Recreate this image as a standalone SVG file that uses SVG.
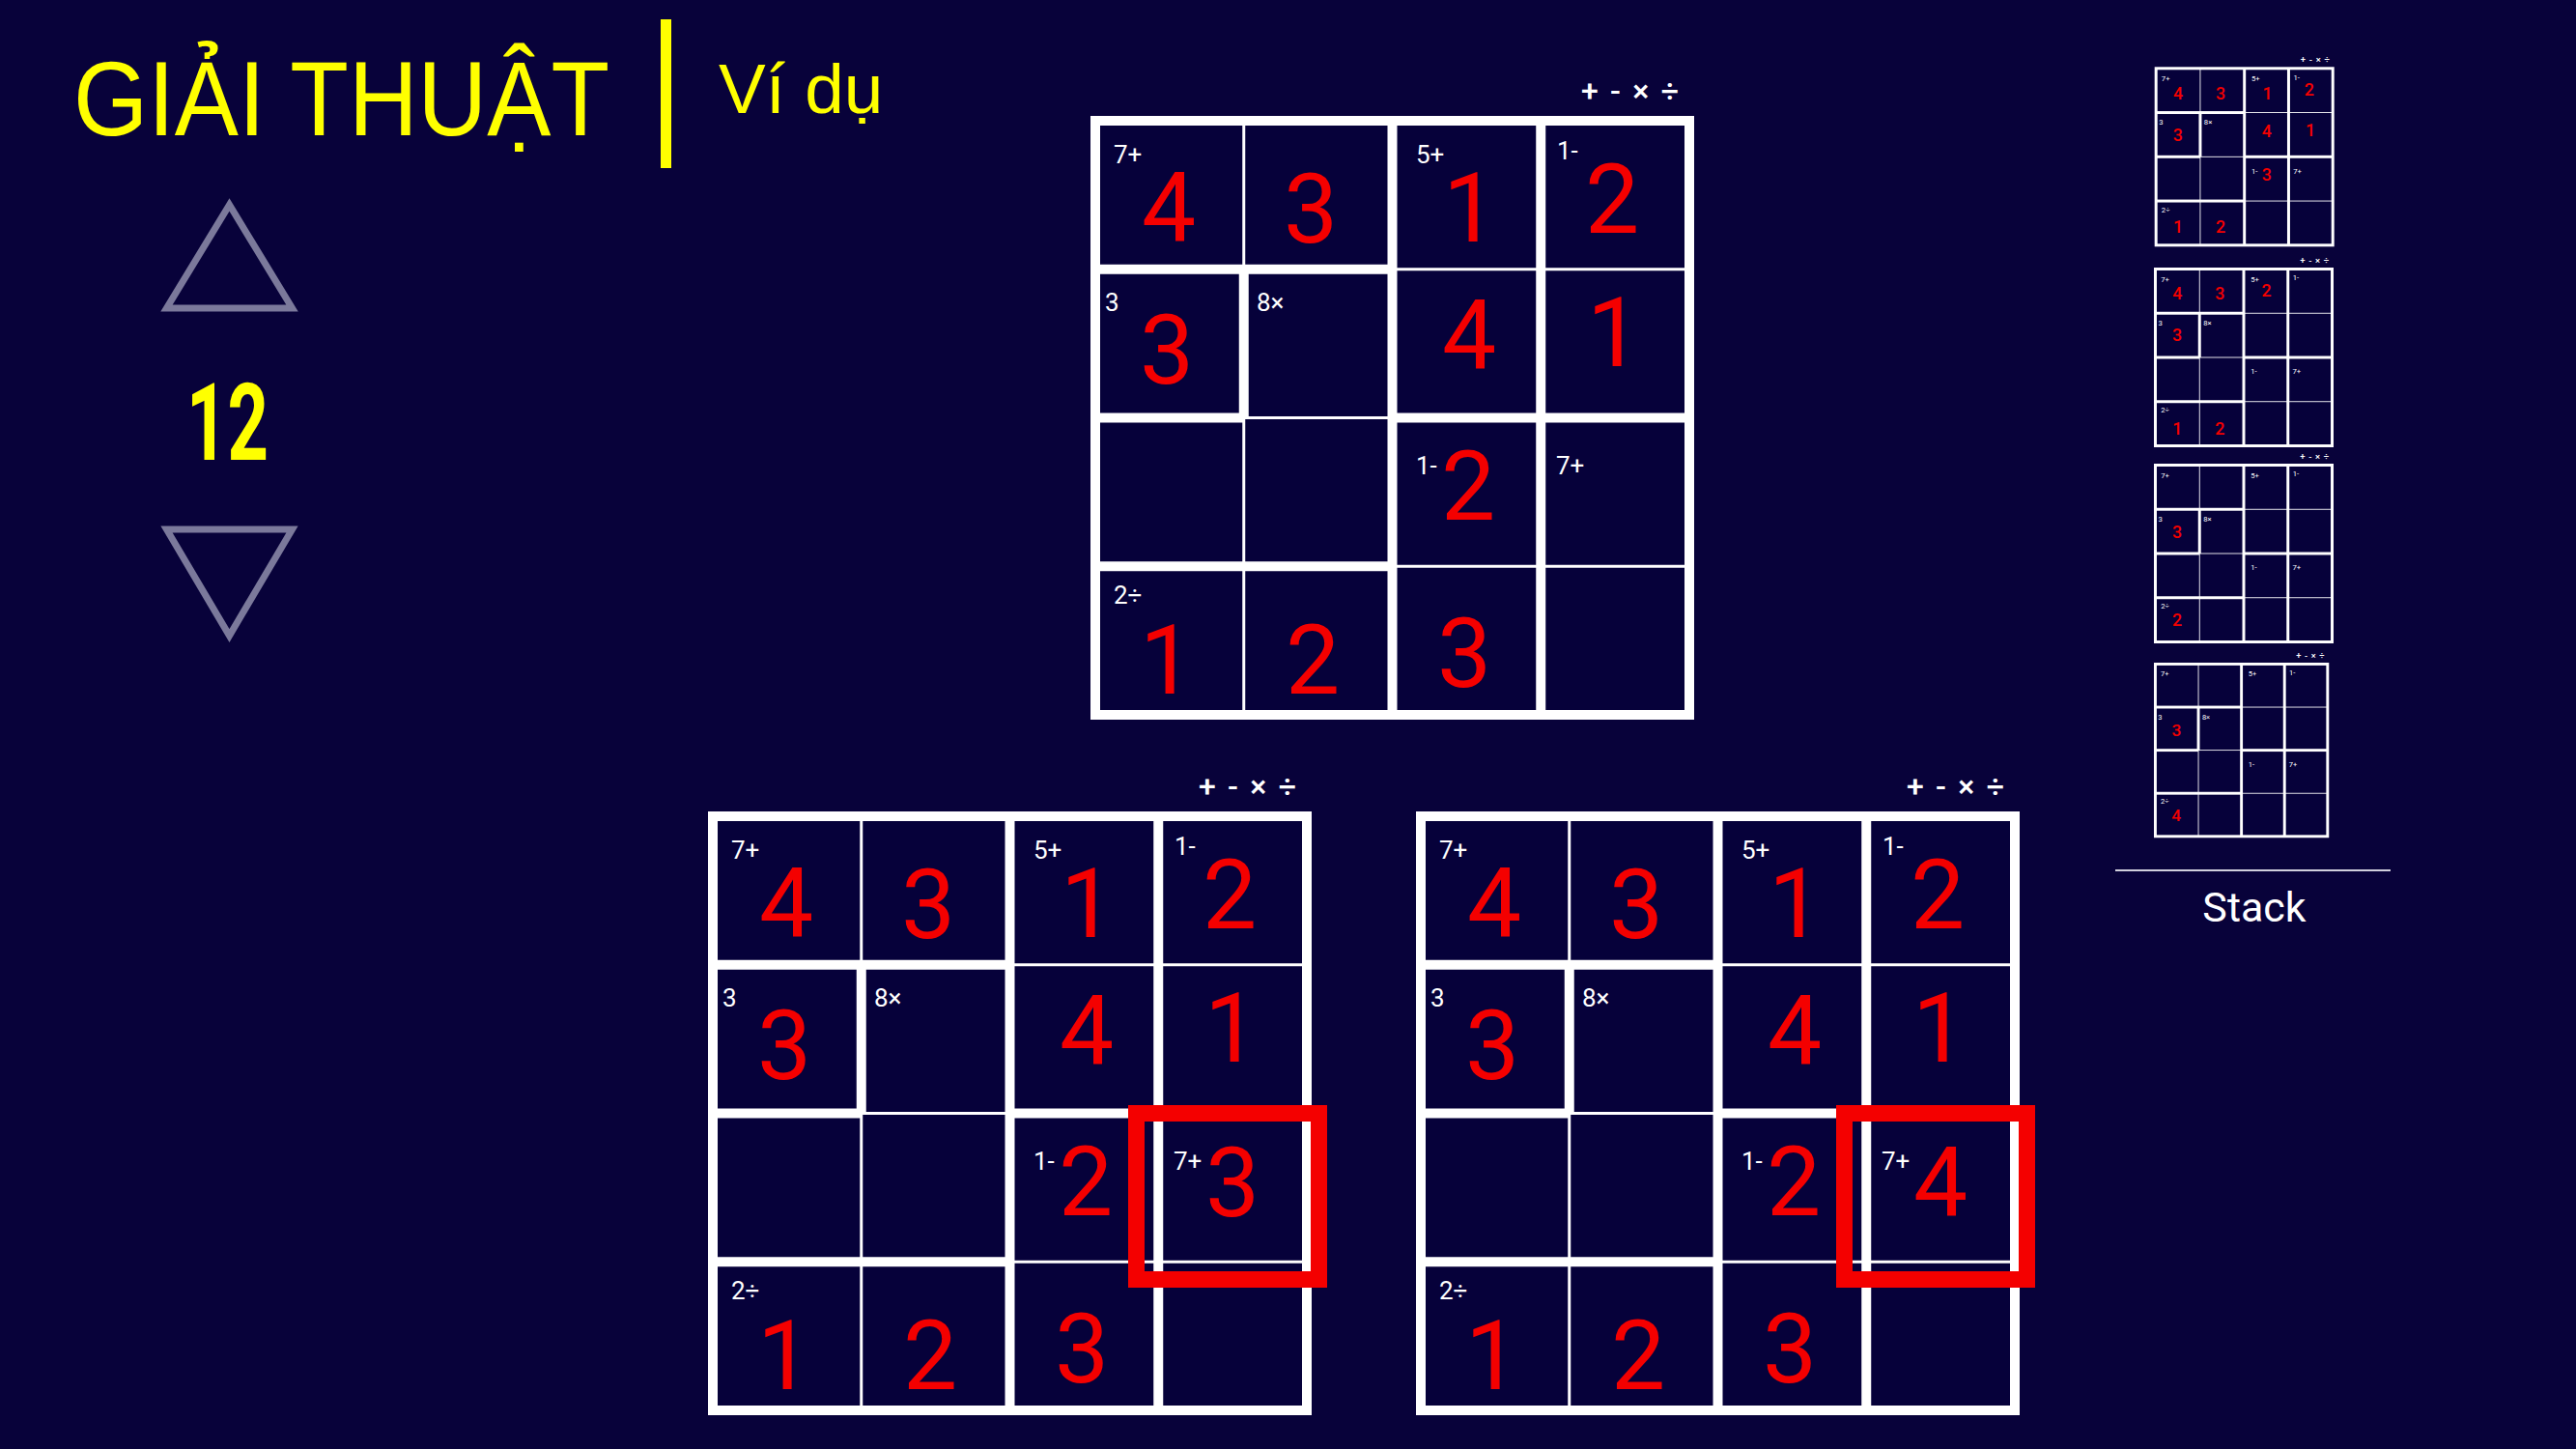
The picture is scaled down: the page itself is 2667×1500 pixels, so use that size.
<svg xmlns="http://www.w3.org/2000/svg" xmlns:xlink="http://www.w3.org/1999/xlink" width="2667" height="1500" viewBox="0 0 2667 1500">
<style>
.bg{fill:#08023a}
.cell{fill:#06013a}
.lbl{font-family:Roboto,"Noto Sans",sans-serif;font-size:26px;fill:#ffffff}
.ops{font-family:Roboto,"Noto Sans",sans-serif;font-size:32px;font-weight:500;fill:#ffffff}
.dg{font-family:Roboto,"Noto Sans",sans-serif;font-size:100px;fill:#f40000;text-anchor:middle}
.dm{font-family:Roboto,"Noto Sans",sans-serif;font-size:60px;font-weight:500;fill:#f40000;text-anchor:middle}
.tri{fill:none;stroke:#7b799b;stroke-width:7;stroke-linejoin:miter}
.hl{fill:none;stroke:#f40000;stroke-width:17}
.yel{fill:#ffff00}
</style>
<defs>
<g id="grid">
<rect x="0" y="0" width="625" height="625" fill="#ffffff"/>
<rect class="cell" x="10" y="10" width="147.25" height="143.75"/>
<rect class="cell" x="160.25" y="10" width="147.25" height="143.75"/>
<rect class="cell" x="317.5" y="10" width="143.75" height="147.25"/>
<rect class="cell" x="471.25" y="10" width="143.75" height="147.25"/>
<rect class="cell" x="10" y="163.75" width="143.75" height="143.75"/>
<rect class="cell" x="163.75" y="163.75" width="143.75" height="147.25"/>
<rect class="cell" x="317.5" y="160.25" width="143.75" height="147.25"/>
<rect class="cell" x="471.25" y="160.25" width="143.75" height="147.25"/>
<rect class="cell" x="10" y="317.5" width="147.25" height="143.75"/>
<rect class="cell" x="160.25" y="314" width="147.25" height="147.25"/>
<rect class="cell" x="317.5" y="317.5" width="143.75" height="147.25"/>
<rect class="cell" x="471.25" y="317.5" width="143.75" height="147.25"/>
<rect class="cell" x="10" y="471.25" width="147.25" height="143.75"/>
<rect class="cell" x="160.25" y="471.25" width="147.25" height="143.75"/>
<rect class="cell" x="317.5" y="467.75" width="143.75" height="147.25"/>
<rect class="cell" x="471.25" y="467.75" width="143.75" height="147.25"/>
<text class="lbl" x="24" y="49">7+</text>
<text class="lbl" x="337" y="49">5+</text>
<text class="lbl" x="483" y="45">1-</text>
<text class="lbl" x="15" y="202">3</text>
<text class="lbl" x="172" y="202">8×</text>
<text class="lbl" x="337" y="371">1-</text>
<text class="lbl" x="482" y="371">7+</text>
<text class="lbl" x="24" y="505">2÷</text>
<text class="ops" x="508" y="-15" textLength="101" lengthAdjust="spacing">+ - × ÷</text>
</g>
</defs>

<rect class="bg" x="0" y="0" width="2667" height="1500"/>

<g id="title">
<text class="yel" x="76" y="140" font-family="'Liberation Sans', Arial, sans-serif" font-size="109" textLength="555" lengthAdjust="spacingAndGlyphs">GIẢI THUẬT</text>
<rect class="yel" x="684" y="20" width="11" height="154"/>
<text class="yel" x="744" y="117" font-family="'Liberation Sans', Arial, sans-serif" font-size="73">Ví dụ</text>
</g>

<g id="nav">
<polygon class="tri" points="237.5,212 172.5,319 302.5,319"/>
<text class="yel" x="193" y="476" font-family="Roboto, 'Liberation Sans', sans-serif" font-weight="bold" font-size="111" textLength="85" lengthAdjust="spacingAndGlyphs">12</text>
<polygon class="tri" points="172.5,548 302.5,548 237.5,658"/>
</g>

<g id="grid-current" transform="translate(1129,120)">
<use href="#grid" xlink:href="#grid"/>
<text class="dg" x="81" y="130">4</text>
<text class="dg" x="228" y="131">3</text>
<text class="dg" x="393" y="130">1</text>
<text class="dg" x="540" y="121">2</text>
<text class="dg" x="79" y="277">3</text>
<text class="dg" x="392" y="262">4</text>
<text class="dg" x="542" y="259">1</text>
<text class="dg" x="391" y="418">2</text>
<text class="dg" x="79" y="598">1</text>
<text class="dg" x="230" y="598">2</text>
<text class="dg" x="387" y="591">3</text>
</g>

<g id="grid-try-3" transform="translate(733,840)">
<use href="#grid" xlink:href="#grid"/>
<text class="dg" x="81" y="130">4</text>
<text class="dg" x="228" y="131">3</text>
<text class="dg" x="393" y="130">1</text>
<text class="dg" x="540" y="121">2</text>
<text class="dg" x="79" y="277">3</text>
<text class="dg" x="392" y="262">4</text>
<text class="dg" x="542" y="259">1</text>
<text class="dg" x="391" y="418">2</text>
<text class="dg" x="543" y="419">3</text>
<text class="dg" x="79" y="598">1</text>
<text class="dg" x="230" y="598">2</text>
<text class="dg" x="387" y="591">3</text>
<rect class="hl" x="443.5" y="312.5" width="189" height="172"/>
</g>

<g id="grid-try-4" transform="translate(1466,840)">
<use href="#grid" xlink:href="#grid"/>
<text class="dg" x="81" y="130">4</text>
<text class="dg" x="228" y="131">3</text>
<text class="dg" x="393" y="130">1</text>
<text class="dg" x="540" y="121">2</text>
<text class="dg" x="79" y="277">3</text>
<text class="dg" x="392" y="262">4</text>
<text class="dg" x="542" y="259">1</text>
<text class="dg" x="391" y="418">2</text>
<text class="dg" x="543" y="419">4</text>
<text class="dg" x="79" y="598">1</text>
<text class="dg" x="230" y="598">2</text>
<text class="dg" x="387" y="591">3</text>
<rect class="hl" x="443.5" y="312.5" width="189" height="172"/>
</g>

<g id="stack-1" transform="translate(2230.7,69.3) scale(0.2976)">
<use href="#grid" xlink:href="#grid"/>
<text class="dm" x="82" y="112">4</text>
<text class="dm" x="229.5" y="112">3</text>
<text class="dm" x="393" y="112">1</text>
<text class="dm" x="538" y="101">2</text>
<text class="dm" x="81" y="258">3</text>
<text class="dm" x="390" y="243">4</text>
<text class="dm" x="542" y="241">1</text>
<text class="dm" x="390" y="396">3</text>
<text class="dm" x="82" y="577">1</text>
<text class="dm" x="229.5" y="577">2</text>
</g>

<g id="stack-2" transform="translate(2230,277) scale(0.2976)">
<use href="#grid" xlink:href="#grid"/>
<text class="dm" x="82" y="111">4</text>
<text class="dm" x="229.5" y="111">3</text>
<text class="dm" x="392" y="100">2</text>
<text class="dm" x="81" y="256">3</text>
<text class="dm" x="82" y="581">1</text>
<text class="dm" x="229.5" y="581">2</text>
</g>

<g id="stack-3" transform="translate(2230,480) scale(0.2976)">
<use href="#grid" xlink:href="#grid"/>
<text class="dm" x="81" y="259">3</text>
<text class="dm" x="81" y="566">2</text>
</g>

<g id="stack-4" transform="translate(2230,686) scale(0.29)">
<use href="#grid" xlink:href="#grid"/>
<text class="dm" x="81" y="262">3</text>
<text class="dm" x="80" y="565">4</text>
</g>

<g id="stack-label">
<line x1="2190" y1="901" x2="2475" y2="901" stroke="#d0d0dc" stroke-width="2"/>
<text x="2334" y="954" font-family="Roboto, 'Noto Sans', sans-serif" font-size="43" fill="#ffffff" text-anchor="middle">Stack</text>
</g>

<g id="connectors"/>
</svg>
